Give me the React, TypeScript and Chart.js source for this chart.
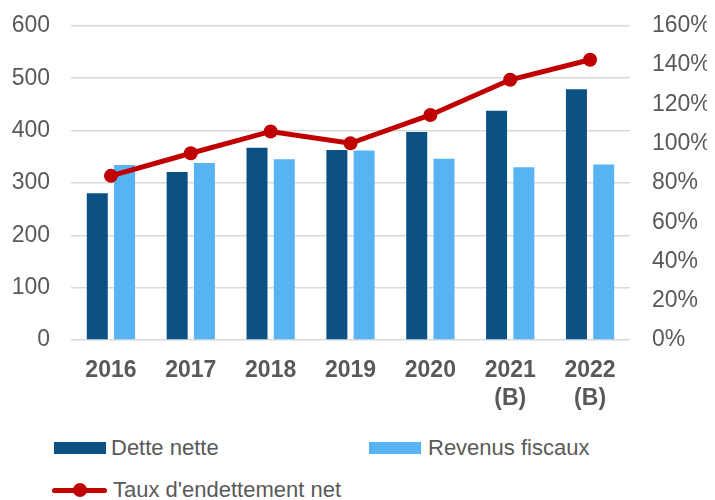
import React, { useEffect, useRef } from "react";
import { Chart, registerables } from "chart.js";

Chart.register(...registerables);

const categories: (string | string[])[] = ["2016", "2017", "2018", "2019", "2020", ["2021", "(B)"], ["2022", "(B)"]];
const detteNette = [280, 321, 367, 363, 397, 438, 479];
const revenusFiscaux = [334, 338, 345, 362, 346, 330, 335];
const tauxEndettement = [83.6, 95.1, 106.2, 100.2, 114.6, 132.5, 142.7];

const labelDette = "Dette nette";
const labelRevenus = "Revenus fiscaux";
const labelTaux = "Taux d'endettement net";

const colorDette = "#0B5183";
const colorRevenus = "#57B3F2";
const colorTaux = "#C00000";
const textColor = "#595959";
const gridColor = "#D9D9D9";
const fontFamily = "'Liberation Sans', Arial, sans-serif";

export default function App() {
  const ref = useRef<HTMLCanvasElement>(null);

  useEffect(() => {
    if (!ref.current) return;
    const chart = new Chart(ref.current, {
      type: "bar",
      data: {
        labels: categories as any,
        datasets: [
          {
            type: "bar",
            label: labelDette,
            data: detteNette,
            backgroundColor: colorDette,
            yAxisID: "y",
            order: 1,
            categoryPercentage: 0.683,
            barPercentage: 0.77,
          },
          {
            type: "bar",
            label: labelRevenus,
            data: revenusFiscaux,
            backgroundColor: colorRevenus,
            yAxisID: "y",
            order: 1,
            categoryPercentage: 0.683,
            barPercentage: 0.77,
          },
          {
            type: "line",
            label: labelTaux,
            data: tauxEndettement,
            borderColor: colorTaux,
            backgroundColor: colorTaux,
            borderWidth: 5,
            pointRadius: 7,
            pointBorderWidth: 0,
            pointBackgroundColor: colorTaux,
            yAxisID: "y1",
            order: 0,
            tension: 0,
          } as any,
        ],
      },
      options: {
        animation: false,
        responsive: true,
        maintainAspectRatio: false,
        layout: { padding: { top: 0, left: 0, right: 0, bottom: 0 } },
        plugins: {
          legend: { display: false },
          tooltip: { enabled: false },
        },
        scales: {
          x: {
            grid: { display: false, drawTicks: false },
            border: { display: false },
            ticks: {
              color: textColor,
              padding: 16,
              font: { family: fontFamily, size: 23, weight: "bold", lineHeight: 1.25 },
              maxRotation: 0,
              autoSkip: false,
            },
            afterFit: (scale: any) => {
              scale.height = 80;
            },
          },
          y: {
            position: "left",
            min: 0,
            max: 600,
            grid: { color: gridColor, lineWidth: 1.5, drawTicks: false },
            border: { display: false },
            ticks: {
              stepSize: 100,
              color: textColor,
              padding: 21,
              font: { family: fontFamily, size: 23 },
            },
            afterFit: (scale: any) => {
              scale.width = 63;
            },
          },
          y1: {
            position: "right",
            min: 0,
            max: 160,
            grid: { display: false, drawTicks: false },
            border: { display: false },
            ticks: {
              stepSize: 20,
              color: textColor,
              padding: 22,
              font: { family: fontFamily, size: 23 },
              callback: (v: any) => `${v}%`,
            },
            afterFit: (scale: any) => {
              scale.width = 77;
            },
          },
        },
      },
    });
    return () => chart.destroy();
  }, []);

  const legendText: React.CSSProperties = {
    fontFamily,
    fontSize: 22,
    color: textColor,
    lineHeight: "24px",
    whiteSpace: "nowrap",
  };
  const item = (left: number, centerY: number): React.CSSProperties => ({
    position: "absolute",
    left,
    top: centerY - 12,
    height: 24,
    display: "flex",
    alignItems: "center",
  });

  return (
    <div style={{ position: "relative", width: 699, height: 492, overflow: "visible" }}>
      <div style={{ position: "absolute", left: 0, top: -18, width: 699, height: 430 }}>
        <canvas ref={ref} />
      </div>
      <div style={item(46, 440)}>
        <div style={{ width: 52, height: 12, background: colorDette, marginRight: 5 }} />
        <span style={legendText}>{labelDette}</span>
      </div>
      <div style={item(361, 440)}>
        <div style={{ width: 52, height: 12, background: colorRevenus, marginRight: 7 }} />
        <span style={legendText}>{labelRevenus}</span>
      </div>
      <div style={item(44, 482)}>
        <div style={{ position: "relative", width: 55, height: 14, marginRight: 6 }}>
          <div style={{ position: "absolute", left: 0, top: 4.5, width: 55, height: 5, background: colorTaux, borderRadius: 2.5 }} />
          <div style={{ position: "absolute", left: 20.5, top: 0, width: 14, height: 14, background: colorTaux, borderRadius: 7 }} />
        </div>
        <span style={legendText}>{labelTaux}</span>
      </div>
    </div>
  );
}
